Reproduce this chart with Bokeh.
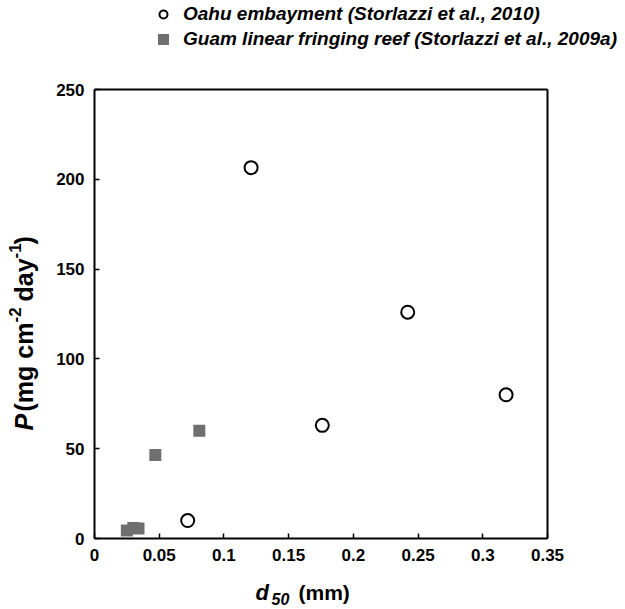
import math
from bokeh.plotting import figure
from bokeh.models import Range1d, FixedTicker, Legend, LegendItem, Label, LinearAxis
from bokeh.embed import file_html
from bokeh.resources import INLINE

# --- data ---
oahu_d50 = [0.072, 0.121, 0.176, 0.242, 0.318]
oahu_p = [10, 206.5, 63, 126, 80]
guam_d50 = [0.025, 0.030, 0.034, 0.047, 0.081]
guam_p = [4.5, 5.8, 5.5, 46.5, 60]
x_ticks = [0, 0.05, 0.1, 0.15, 0.2, 0.25, 0.3, 0.35]
x_tick_labels = ["0", "0.05", "0.1", "0.15", "0.2", "0.25", "0.3", "0.35"]
y_ticks = [0, 50, 100, 150, 200, 250]
y_tick_labels = ["0", "50", "100", "150", "200", "250"]
legend_labels = ["Oahu embayment (Storlazzi et al., 2010)",
                 "Guam linear fringing reef (Storlazzi et al., 2009a)"]
x_lim = (0, 0.35)
y_lim = (0, 250)

FONT = "Liberation Sans"

# layout: the frame covers the whole canvas; axes are pinned at the data limits
W, H = 625, 609
PX_L, PX_R, PX_T, PX_B = 94, 547, 89, 538
kx = (x_lim[1] - x_lim[0]) / (PX_R - PX_L)
ky = (y_lim[1] - y_lim[0]) / (PX_B - PX_T)
xr = Range1d(x_lim[0] - PX_L * kx, x_lim[1] + (W - PX_R) * kx)
yr = Range1d(y_lim[0] - (H - PX_B) * ky, y_lim[1] + PX_T * ky)

p = figure(width=W, height=H, output_backend="svg", toolbar_location=None,
           x_range=xr, y_range=yr, min_border=0)
p.xgrid.visible = False
p.ygrid.visible = False
p.outline_line_color = None
p.background_fill_color = "white"
p.border_fill_color = "white"

def style_axis(ax, ticks, labels, bounds, loc):
    ax.fixed_location = loc
    ax.bounds = bounds
    ax.ticker = FixedTicker(ticks=ticks)
    ax.major_label_overrides = {t: l for t, l in zip(ticks, labels)}
    ax.major_tick_in = 5
    ax.major_tick_out = 0
    ax.minor_tick_in = 0
    ax.minor_tick_out = 0
    ax.axis_line_width = 2
    ax.axis_line_color = "black"
    ax.major_tick_line_width = 1.5
    ax.major_label_text_font = FONT
    ax.major_label_text_font_style = "bold"
    ax.major_label_text_font_size = "17px"
    ax.major_label_text_color = "black"
    ax.major_label_standoff = 10

style_axis(p.xaxis[0], x_ticks, x_tick_labels, x_lim, y_lim[0])
style_axis(p.yaxis[0], y_ticks, y_tick_labels, y_lim, x_lim[0])

# box top and right
top = LinearAxis(fixed_location=y_lim[1], bounds=x_lim, ticker=FixedTicker(ticks=[]),
                 major_label_text_font_size="0px", axis_line_width=2,
                 major_tick_in=0, major_tick_out=0, minor_tick_in=0, minor_tick_out=0)
right = LinearAxis(fixed_location=x_lim[1], bounds=y_lim, ticker=FixedTicker(ticks=[]),
                   major_label_text_font_size="0px", axis_line_width=2,
                   major_tick_in=0, major_tick_out=0, minor_tick_in=0, minor_tick_out=0)
p.add_layout(top, "above")
p.add_layout(right, "right")

r_oahu = p.scatter(oahu_d50, oahu_p, marker="circle", size=13, fill_color="white",
                   line_color="black", line_width=2)
r_guam = p.scatter(guam_d50, guam_p, marker="square", size=9, fill_color="#6f6f6f",
                   line_color="#6f6f6f", line_width=3, line_join="miter")

legend = Legend(items=[LegendItem(label=legend_labels[0], renderers=[r_oahu]),
                       LegendItem(label=legend_labels[1], renderers=[r_guam])],
                location=(153, H - 50), padding=0, margin=0, spacing=3,
                glyph_width=20, glyph_height=20, label_standoff=10,
                label_text_font=FONT, label_text_font_style="bold italic",
                label_text_font_size="19px", label_text_color="black",
                background_fill_alpha=0, border_line_alpha=0)
p.add_layout(legend, "center")

# axis labels drawn as pieces (italic symbol + sub/superscripts)
def lab(text, xo, yo, style, size, angle=0.0):
    p.add_layout(Label(x=x_lim[0], y=y_lim[0], text=text, x_offset=xo, y_offset=yo,
                       angle=angle, text_font=FONT, text_font_style=style,
                       text_font_size=size, text_color="black", text_align="left",
                       text_baseline="alphabetic"))

# x label: d50 (mm)
by = -(592 - PX_B)
lab("d", 255 - PX_L, by, "bold italic", "22px")
lab("50", 271 - PX_L, by - 6, "bold italic", "16px")
lab("(mm)", 298 - PX_L, by, "bold", "21px")

# y label: rotated, runs upward (positions are distances above the x axis)
a = math.pi / 2
yx = 23 - PX_L
sup = yx - 9
lab("P", yx, PX_B - 430, "bold italic", "25px", a)
lab("(mg cm", yx, PX_B - 411, "bold", "25px", a)
lab("-2", sup, PX_B - 322, "bold", "17px", a)
lab("day", yx, PX_B - 301, "bold", "25px", a)
lab("-1", sup, PX_B - 258, "bold", "17px", a)
lab(")", yx, PX_B - 244, "bold", "25px", a)

open("out.html", "w").write(file_html(p, INLINE))
